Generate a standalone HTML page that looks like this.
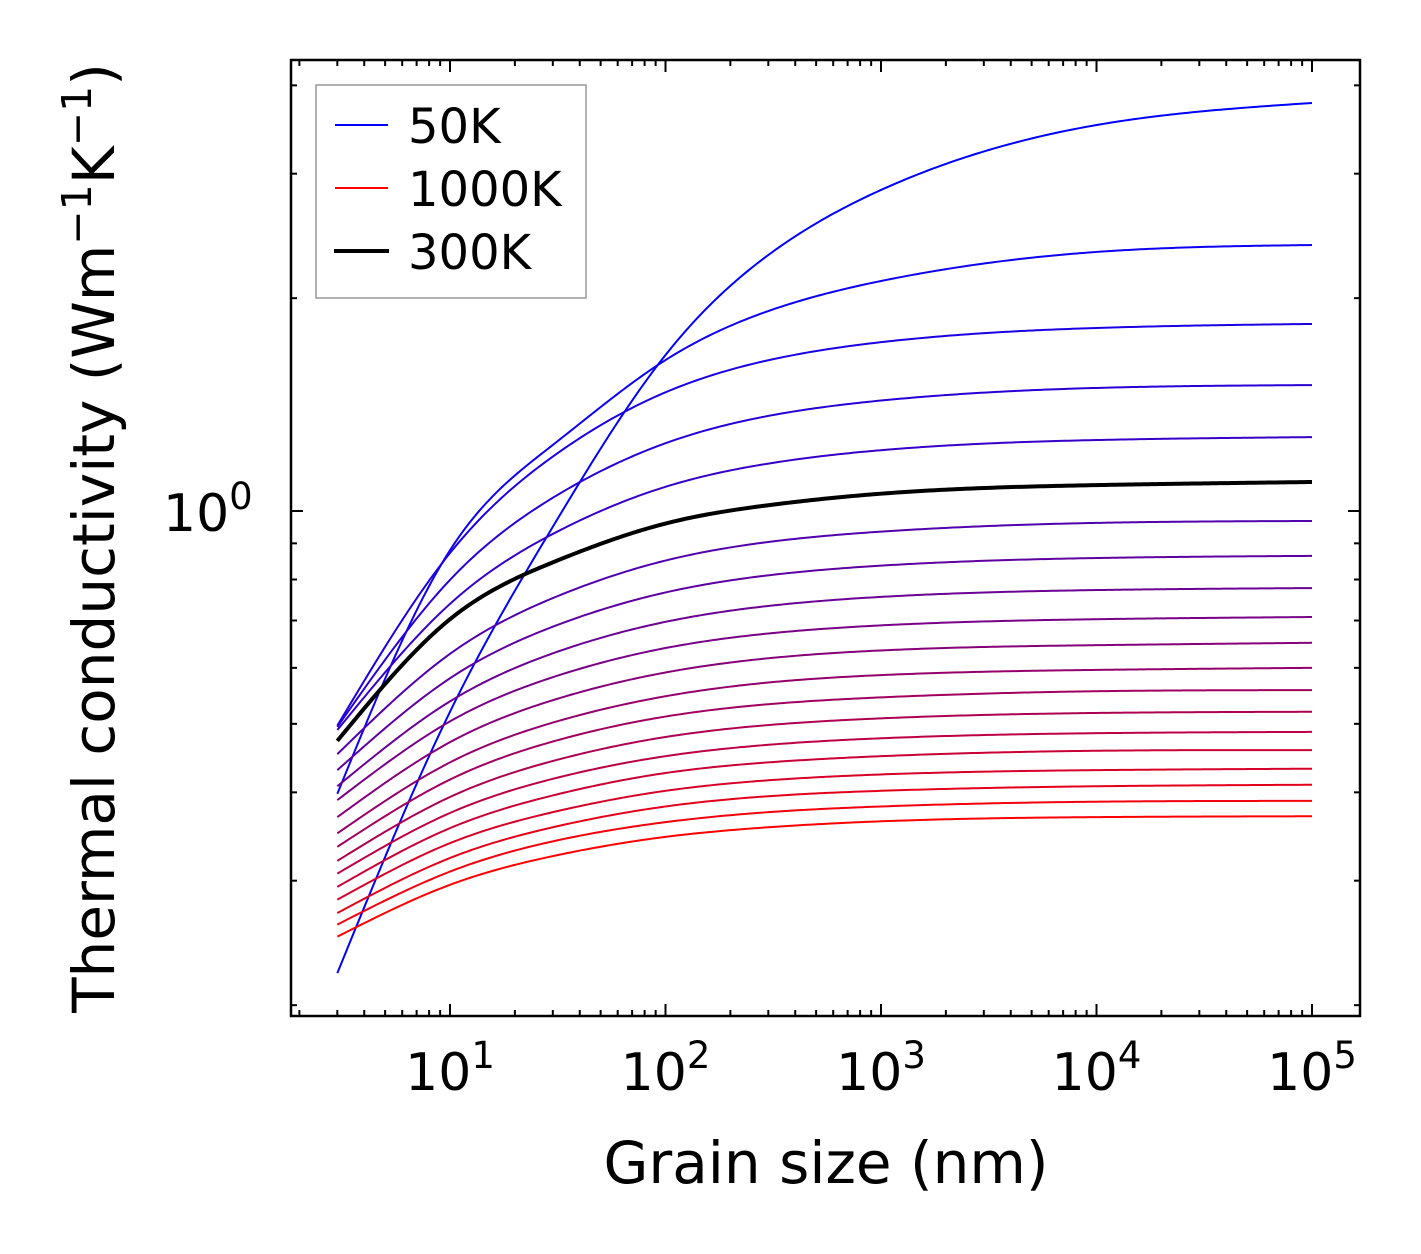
<!DOCTYPE html>
<html><head><meta charset="utf-8"><style>
html,body{margin:0;padding:0;background:#fff;}
svg{display:block;font-family:"DejaVu Sans","Liberation Sans",sans-serif;}
</style></head><body>
<svg id="chart" width="1421" height="1254" viewBox="0 0 1421 1254" xmlns="http://www.w3.org/2000/svg">
<rect x="0" y="0" width="1421" height="1254" fill="#fff"/>
<g id="curves"></g>
<g id="ticks"></g>
<rect x="291" y="60" width="1069" height="956" fill="none" stroke="#000" stroke-width="2.5"/>
<text x="163" y="531" font-size="52">10<tspan dy="-22" font-size="37">0</tspan></text>
<text x="826" y="1183" font-size="58" text-anchor="middle">Grain size (nm)</text>
<text transform="translate(114,538) rotate(-90)" font-size="58" text-anchor="middle">Thermal conductivity (Wm<tspan dy="-23" font-size="41">−1</tspan><tspan dy="23">K</tspan><tspan dy="-23" font-size="41">−1</tspan><tspan dy="23">)</tspan></text>
<g>
<rect x="316" y="85" width="270" height="213" fill="#fff" stroke="#999" stroke-width="1.5"/>
<line x1="335" y1="125" x2="388" y2="125" stroke="#0000ff" stroke-width="2"/>
<text x="408" y="143" font-size="48">50K</text>
<line x1="335" y1="188" x2="388" y2="188" stroke="#ff0000" stroke-width="2"/>
<text x="408" y="206" font-size="48">1000K</text>
<line x1="334" y1="251" x2="389" y2="251" stroke="#000" stroke-width="4"/>
<text x="408" y="269" font-size="48">300K</text>
</g>
</svg>
<script>
const grainSizes = [3, 10, 30, 100, 300, 1000, 10000, 100000];
const temperatures = [50,100,150,200,250,300,350,400,450,500,550,600,650,700,750,800,850,900,950,1000];
const k50  = [0.222,0.520,0.950,1.662,2.302,2.845,3.515,3.777];
const k100 = [0.398,0.880,1.240,1.635,1.918,2.115,2.325,2.378];
const k150 = [0.497,0.872,1.194,1.472,1.634,1.733,1.815,1.839];
const k200 = [0.495,0.799,1.044,1.247,1.363,1.433,1.493,1.507];
const k250 = [0.490,0.739,0.928,1.082,1.167,1.219,1.260,1.272];
const k300 = [0.473,0.703,0.846,0.960,1.019,1.058,1.088,1.099];
const k350 = [0.453,0.628,0.753,0.851,0.904,0.935,0.962,0.968];
const k400 = [0.430,0.580,0.686,0.767,0.811,0.837,0.858,0.864];
const k450 = [0.408,0.538,0.629,0.697,0.734,0.756,0.773,0.778];
const k500 = [0.390,0.504,0.582,0.640,0.671,0.689,0.703,0.708];
const k550 = [0.369,0.471,0.540,0.591,0.619,0.635,0.646,0.651];
const k600 = [0.350,0.441,0.502,0.547,0.572,0.586,0.596,0.600];
const k650 = [0.335,0.417,0.472,0.512,0.533,0.545,0.556,0.558];
const k700 = [0.320,0.394,0.443,0.479,0.498,0.509,0.518,0.520];
const k750 = [0.307,0.374,0.418,0.450,0.467,0.477,0.485,0.487];
const k800 = [0.294,0.356,0.396,0.426,0.441,0.450,0.458,0.459];
const k850 = [0.282,0.339,0.375,0.402,0.416,0.424,0.430,0.432];
const k900 = [0.270,0.323,0.357,0.382,0.395,0.402,0.408,0.410];
const k950 = [0.260,0.309,0.341,0.363,0.375,0.382,0.388,0.389];
const k1000= [0.250,0.296,0.325,0.346,0.357,0.364,0.369,0.370];
const series = [k50,k100,k150,k200,k250,k300,k350,k400,k450,k500,k550,k600,k650,k700,k750,k800,k850,k900,k950,k1000];
const xTickLabels = ["1","2","3","4","5"];

const NS = "http://www.w3.org/2000/svg";
function xPx(v){ return 450 + (Math.log10(v) - 1) * 215.5; }
function yPx(v){ return 511 - Math.log10(v) * 707; }

// natural cubic spline through pixel points, sampled to a polyline
function splinePath(pts){
  const n = pts.length, x = pts.map(p=>p[0]), y = pts.map(p=>p[1]);
  const h = [], a = [], b = [], c = [], r = [], M = new Array(n).fill(0);
  for (let i = 0; i < n-1; i++) h[i] = x[i+1]-x[i];
  const sz = n-2;
  for (let i = 0; i < sz; i++){
    a[i] = h[i]; b[i] = 2*(h[i]+h[i+1]); c[i] = h[i+1];
    r[i] = 6*((y[i+2]-y[i+1])/h[i+1] - (y[i+1]-y[i])/h[i]);
  }
  for (let i = 1; i < sz; i++){ const w = a[i]/b[i-1]; b[i] -= w*c[i-1]; r[i] -= w*r[i-1]; }
  const sol = new Array(sz);
  for (let i = sz-1; i >= 0; i--) sol[i] = (r[i] - (i < sz-1 ? c[i]*sol[i+1] : 0))/b[i];
  for (let i = 0; i < sz; i++) M[i+1] = sol[i];
  let d = "M" + x[0].toFixed(2) + "," + y[0].toFixed(2);
  for (let i = 0; i < n-1; i++){
    const steps = Math.max(4, Math.ceil(h[i]/4));
    for (let s = 1; s <= steps; s++){
      const t = x[i] + h[i]*s/steps;
      const A = (x[i+1]-t)/h[i], B = (t-x[i])/h[i];
      const v = A*y[i] + B*y[i+1] + ((A*A*A-A)*M[i] + (B*B*B-B)*M[i+1])*h[i]*h[i]/6;
      d += " L" + t.toFixed(2) + "," + v.toFixed(2);
    }
  }
  return d;
}

const curves = document.getElementById("curves");
const n = series.length;
let blackPath = null;
series.forEach((vals, i) => {
  const pts = grainSizes.map((g, j) => [xPx(g), yPx(vals[j])]);
  const p = document.createElementNS(NS, "path");
  p.setAttribute("d", splinePath(pts));
  p.setAttribute("fill", "none");
  p.setAttribute("stroke-linejoin", "round");
  const T = temperatures[i];
  if (T === 300){
    p.setAttribute("stroke", "#000");
    p.setAttribute("stroke-width", "4");
    blackPath = p;
  } else {
    const t = i / (n - 1);
    p.setAttribute("stroke", "rgb(" + Math.round(255*t) + ",0," + Math.round(255*(1-t)) + ")");
    p.setAttribute("stroke-width", "2");
  }
  
  
  curves.appendChild(p);
});
if (blackPath) curves.appendChild(blackPath);

const ticks = document.getElementById("ticks");
function tick(x1,y1,x2,y2,name){
  const l = document.createElementNS(NS, "line");
  l.setAttribute("x1",x1); l.setAttribute("y1",y1); l.setAttribute("x2",x2); l.setAttribute("y2",y2);
  l.setAttribute("stroke","#000"); l.setAttribute("stroke-width","2");
  
  
  ticks.appendChild(l);
}
for (let e = 0; e <= 5; e++){
  for (let m = 1; m <= 9; m++){
    const v = m * Math.pow(10, e);
    const x = xPx(v);
    if (x < 292 || x > 1359) continue;
    const len = m === 1 ? 12 : 6;
    tick(x,1016,x,1016-len,"x-tick");
    tick(x,60,x,60+len,"x-tick-top");
  }
}
xTickLabels.forEach(e => {
  const t = document.createElementNS(NS, "text");
  const x = xPx(Math.pow(10, +e));
  t.setAttribute("x", x); t.setAttribute("y", 1090);
  t.setAttribute("font-size","52"); t.setAttribute("text-anchor","middle");
  t.innerHTML = '10<tspan dy="-22" font-size="37">' + e + '</tspan>';
  
  
  ticks.appendChild(t);
});
for (let e = -1; e <= 0; e++){
  for (let m = 1; m <= 9; m++){
    const v = m * Math.pow(10, e);
    const y = yPx(v);
    if (y < 61 || y > 1015) continue;
    const len = (m === 1 && e === 0) ? 12 : 6;
    tick(291,y,291+len,y,"y-tick");
    tick(1360,y,1360-len,y,"y-tick-right");
  }
}
</script>
</body></html>
